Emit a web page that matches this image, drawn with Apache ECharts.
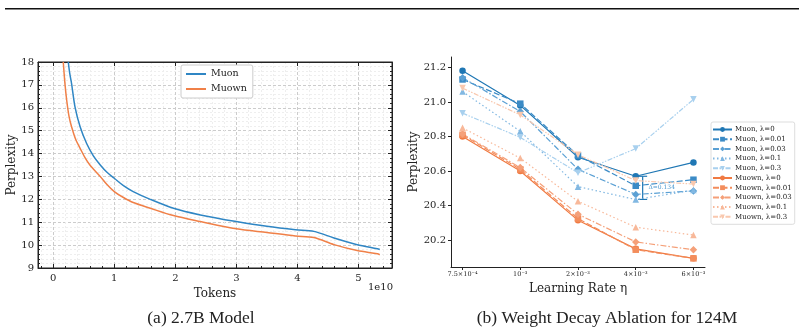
<!DOCTYPE html>
<html>
<head>
<meta charset="utf-8">
<script src="https://cdn.jsdelivr.net/npm/echarts@6/dist/echarts.min.js"></script>
<style>
  html, body { margin: 0; padding: 0; background: #fff; }
  #chart { width: 804px; height: 334px; }
</style>
</head>
<body>
<div id="chart"></div>
<script>
// (a) 2.7B model: tokens (x1e10) vs perplexity
var muonTokens = [0.246, 0.27, 0.30, 0.356, 0.44, 0.547, 0.657, 0.77, 0.88, 1.0, 1.15, 1.31, 1.59, 1.97, 2.41, 3.0, 3.5, 3.97, 4.27, 4.6, 4.98, 5.31, 5.35]
var muonPpl = [18.0, 17.5, 17.06, 16.04, 15.17, 14.44, 13.9, 13.5, 13.18, 12.92, 12.6, 12.34, 12.0, 11.61, 11.32, 11.03, 10.82, 10.67, 10.6, 10.31, 10.02, 9.84, 9.81]
var muownTokens = [0.164, 0.19, 0.22, 0.26, 0.30, 0.37, 0.44, 0.52, 0.60, 0.77, 0.88, 1.0, 1.15, 1.31, 1.59, 1.97, 2.41, 3.0, 3.5, 3.97, 4.27, 4.6, 4.98, 5.31, 5.35]
var muownPpl = [18.0, 17.1, 16.33, 15.6, 15.17, 14.6, 14.23, 13.82, 13.5, 13.0, 12.65, 12.34, 12.08, 11.86, 11.61, 11.29, 11.03, 10.71, 10.55, 10.4, 10.33, 10.02, 9.76, 9.62, 9.58]

// (b) weight decay ablation
var lrLabels = ['7.5×10⁻⁴', '10⁻³', '2×10⁻³', '4×10⁻³', '6×10⁻³']
var lambdas = ['0', '0.01', '0.03', '0.1', '0.3']
var muonRuns = [
  [21.18, 20.98, 20.68, 20.57, 20.65],
  [21.13, 20.99, 20.69, 20.515, 20.55],
  [21.14, 20.945, 20.61, 20.465, 20.485],
  [21.06, 20.83, 20.51, 20.435, 20.49],
  [20.935, 20.795, 20.59, 20.73, 21.015]
]
var muownRuns = [
  [20.80, 20.60, 20.315, 20.15, 20.095],
  [20.81, 20.61, 20.325, 20.145, 20.095],
  [20.815, 20.62, 20.35, 20.19, 20.145],
  [20.85, 20.675, 20.425, 20.275, 20.23],
  [21.08, 20.925, 20.695, 20.545, 20.525]
]
var gapX = 3.12
var gapTop = 20.57
var gapBottom = 20.436
var gapText = 'Δ=0.134'

var muonColors = ['#1f77b4', '#3b8bc6', '#5aa0d4', '#82b8e2', '#a8d0ee']
var muownColors = ['#f07a42', '#f38d5c', '#f5a079', '#f8b899', '#f9c8ae']
var lineTypes = ['solid', [6, 2.5], [6, 2, 1.5, 2], [1.5, 2.5], [5, 1.5, 1.5, 1.5, 1.5, 1.5]]
var markers = ['circle', 'rect', 'diamond', 'triangle', 'path://M0,0 L10,0 L5,9 Z']

var serif = 'DejaVu Serif'
var chart = echarts.init(document.getElementById('chart'))

function pairs (xs, ys) {
  return xs.map(function (x, i) { return [x, ys[i]] })
}

var series = [
  {
    name: 'Muon', type: 'line', xAxisIndex: 0, yAxisIndex: 0,
    data: pairs(muonTokens, muonPpl), smooth: 0.3, showSymbol: false, symbol: 'none',
    lineStyle: { color: '#2f86c4', width: 1.5 }, itemStyle: { color: '#2f86c4' }
  },
  {
    name: 'Muown', type: 'line', xAxisIndex: 0, yAxisIndex: 0,
    data: pairs(muownTokens, muownPpl), smooth: 0.3, showSymbol: false, symbol: 'none',
    lineStyle: { color: '#f08048', width: 1.5 }, itemStyle: { color: '#f08048' }
  }
]
var rightLegend = []
function addRuns (label, runs, colors) {
  runs.forEach(function (vals, i) {
    var name = label + ', λ=' + lambdas[i]
    rightLegend.push(name)
    series.push({
      name: name, type: 'line', xAxisIndex: 2, yAxisIndex: 2,
      data: vals.map(function (v, j) { return [j, v] }),
      symbol: markers[i], symbolSize: i === 2 ? 7.5 : 6.5,
      lineStyle: { color: colors[i], width: 1.2, type: lineTypes[i] },
      itemStyle: { color: colors[i] }
    })
  })
}
addRuns('Muon', muonRuns, muonColors)
addRuns('Muown', muownRuns, muownColors)

// bracket showing the gap at lr=4e-3
series.push({
  type: 'custom', xAxisIndex: 2, yAxisIndex: 2, silent: true,
  data: [[gapX, gapTop, gapBottom]],
  renderItem: function (params, api) {
    var top = api.coord([api.value(0), api.value(1)])
    var bot = api.coord([api.value(0), api.value(2)])
    var mid = api.coord([api.value(0) + 0.1, (api.value(1) + api.value(2)) / 2])
    var st = { stroke: '#1f77b4', lineWidth: 1.2 }
    return {
      type: 'group',
      children: [
        { type: 'line', shape: { x1: top[0], y1: top[1], x2: bot[0], y2: bot[1] }, style: st },
        { type: 'line', shape: { x1: top[0] - 4.5, y1: top[1], x2: top[0] + 4.5, y2: top[1] }, style: st },
        { type: 'line', shape: { x1: bot[0] - 4.5, y1: bot[1], x2: bot[0] + 4.5, y2: bot[1] }, style: st },
        { type: 'text', x: mid[0], y: mid[1], style: { text: gapText, fill: '#4a97cf', font: '6px "DejaVu Serif"', verticalAlign: 'middle' } }
      ]
    }
  }
})

var tickLabel = { fontFamily: serif, fontSize: 10, color: '#222' }
var axisLine = { onZero: false, lineStyle: { color: '#222' } }

chart.setOption({
  animation: false,
  textStyle: { fontFamily: serif },
  grid: [
    { left: 38, right: 412, top: 62, bottom: 66, show: true, borderColor: '#222', borderWidth: 1 },
    { left: 451, right: 99, top: 57, bottom: 67 }
  ],
  legend: [
    {
      data: ['Muon', 'Muown'], left: 181, top: 65, orient: 'vertical',
      itemWidth: 20, itemHeight: 2, itemGap: 5,
      backgroundColor: '#fff', borderColor: '#ccc', borderWidth: 1, borderRadius: 2, padding: [4, 6, 4, 4],
      textStyle: { fontFamily: serif, fontSize: 9.5, color: '#222' }
    },
    {
      data: rightLegend, left: 711, top: 122, orient: 'vertical',
      itemWidth: 19, itemHeight: 6, itemGap: 2.7,
      backgroundColor: '#fff', borderColor: '#ddd', borderWidth: 1, borderRadius: 2, padding: [4, 3, 4, 1],
      textStyle: { fontFamily: serif, fontSize: 7, color: '#222', padding: [0, 0, 0, -2] }
    }
  ],
  xAxis: [
    {
      gridIndex: 0, type: 'value', min: -0.25, max: 5.55,
      name: 'Tokens', nameLocation: 'middle', nameGap: 15,
      nameTextStyle: { fontFamily: serif, fontSize: 12, color: '#222' },
      axisLine: axisLine,
      axisTick: { inside: true, length: 4, customValues: [0, 1, 2, 3, 4, 5] },
      minorTick: { show: true, splitNumber: 5, length: 2 },
      axisLabel: Object.assign({ customValues: [0, 1, 2, 3, 4, 5], margin: 5 }, tickLabel),
      splitLine: { show: true, lineStyle: { color: '#ccc', type: [3, 2] } },
      minorSplitLine: { show: true, lineStyle: { color: '#eee', type: [2, 2] } }
    },
    {
      gridIndex: 0, type: 'value', min: -0.25, max: 5.55, position: 'top',
      axisLine: axisLine,
      axisTick: { inside: true, length: 4, customValues: [0, 1, 2, 3, 4, 5] },
      axisLabel: { show: false }, splitLine: { show: false }
    },
    {
      gridIndex: 1, type: 'value', min: -0.2, max: 4.2,
      name: 'Learning Rate η', nameLocation: 'middle', nameGap: 15,
      nameTextStyle: { fontFamily: serif, fontSize: 12, color: '#222' },
      axisLine: axisLine,
      axisTick: { length: 3, customValues: [0, 1, 2, 3, 4] },
      axisLabel: {
        customValues: [0, 1, 2, 3, 4], fontFamily: serif, fontSize: 6.5, color: '#222', margin: 4,
        formatter: function (v) { return lrLabels[Math.round(v)] }
      },
      splitLine: { show: false }
    }
  ],
  yAxis: [
    {
      gridIndex: 0, type: 'value', min: 9, max: 18, interval: 1,
      name: 'Perplexity', nameLocation: 'middle', nameGap: 20,
      nameTextStyle: { fontFamily: serif, fontSize: 12, color: '#222' },
      axisLine: axisLine,
      axisTick: { inside: true, length: 4 },
      minorTick: { show: true, splitNumber: 5, length: 2 },
      axisLabel: Object.assign({ margin: 4 }, tickLabel),
      splitLine: { show: true, lineStyle: { color: '#ccc', type: [3, 2] } },
      minorSplitLine: { show: true, lineStyle: { color: '#eee', type: [2, 2] } }
    },
    {
      gridIndex: 0, type: 'value', min: 9, max: 18, interval: 1, position: 'right',
      axisLine: axisLine,
      axisTick: { inside: true, length: 4 },
      minorTick: { show: true, splitNumber: 5, length: 2 },
      axisLabel: { show: false }, splitLine: { show: false }
    },
    {
      gridIndex: 1, type: 'value', min: 20.045, max: 21.26,
      name: 'Perplexity', nameLocation: 'middle', nameGap: 28,
      nameTextStyle: { fontFamily: serif, fontSize: 12, color: '#222' },
      axisLine: { show: true, onZero: false, lineStyle: { color: '#222' } },
      axisTick: { show: true, length: 3, customValues: [20.2, 20.4, 20.6, 20.8, 21.0, 21.2] },
      axisLabel: {
        customValues: [20.2, 20.4, 20.6, 20.8, 21.0, 21.2], fontFamily: serif, fontSize: 10, color: '#222', margin: 5,
        formatter: function (v) { return v.toFixed(1) }
      },
      splitLine: { show: false }
    }
  ],
  graphic: [
    { type: 'rect', shape: { x: 5, y: 8, width: 794, height: 1.5 }, style: { fill: '#111' } },
    { type: 'text', x: 368, y: 282, style: { text: '1e10', font: '10px "DejaVu Serif"', fill: '#222' } },
    { type: 'text', x: 201, y: 318, style: { text: '(a) 2.7B Model', font: '17.5px "Liberation Serif"', fill: '#222', align: 'center', verticalAlign: 'middle' } },
    { type: 'text', x: 607, y: 318, style: { text: '(b) Weight Decay Ablation for 124M', font: '17.5px "Liberation Serif"', fill: '#222', align: 'center', verticalAlign: 'middle' } }
  ],
  series: series
})
</script>
</body>
</html>
